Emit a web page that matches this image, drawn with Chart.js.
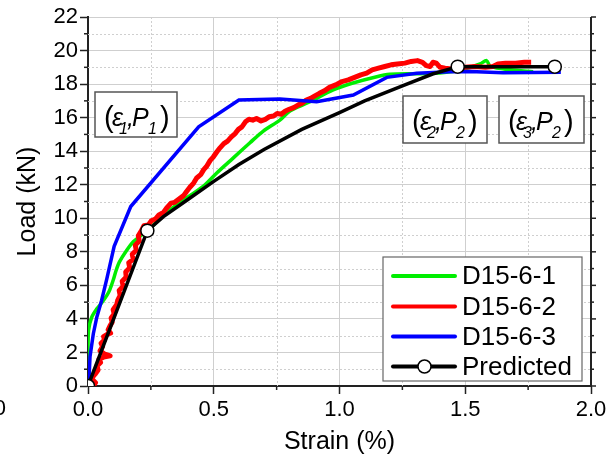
<!DOCTYPE html>
<html>
<head>
<meta charset="utf-8">
<script src="https://cdn.jsdelivr.net/npm/chart.js@4/dist/chart.umd.min.js"></script>
<style>
  html, body { margin: 0; padding: 0; background: #fff; }
  canvas { display: block; }
</style>
</head>
<body>
<canvas id="chart" width="611" height="464"></canvas>
<script>
'use strict';

/* Data */
const strainD1 = [0.000, 0.000, 0.002, 0.015, 0.035, 0.054, 0.075, 0.087, 0.100, 0.112, 0.125, 0.154, 0.180, 0.200, 0.240, 0.280, 0.326, 0.390, 0.458, 0.512, 0.578, 0.644, 0.697, 0.763, 0.803, 0.876, 0.975, 1.050, 1.148, 1.200, 1.300, 1.370, 1.470, 1.520, 1.559, 1.585, 1.600, 1.680, 1.770];
const loadD1 = [0.50, 2.00, 3.30, 4.10, 4.60, 4.95, 5.40, 5.75, 6.30, 6.90, 7.40, 8.10, 8.60, 8.85, 9.30, 9.90, 10.50, 11.20, 11.90, 12.70, 13.60, 14.50, 15.20, 15.85, 16.40, 16.90, 17.65, 18.05, 18.44, 18.58, 18.62, 18.64, 18.80, 19.00, 19.20, 19.40, 19.05, 18.85, 18.74];

const strainD2 = [0.021, 0.030, 0.014, 0.028, 0.040, 0.036, 0.050, 0.044, 0.062, 0.088, 0.064, 0.048, 0.058, 0.052, 0.066, 0.062, 0.078, 0.090, 0.080, 0.088, 0.096, 0.092, 0.104, 0.100, 0.114, 0.118, 0.128, 0.124, 0.140, 0.136, 0.152, 0.150, 0.166, 0.162, 0.180, 0.176, 0.192, 0.188, 0.204, 0.200, 0.214, 0.222, 0.240, 0.252, 0.268, 0.282, 0.300, 0.312, 0.330, 0.345, 0.362, 0.380, 0.392, 0.405, 0.420, 0.432, 0.448, 0.460, 0.472, 0.486, 0.498, 0.512, 0.525, 0.540, 0.555, 0.570, 0.585, 0.598, 0.612, 0.626, 0.640, 0.655, 0.670, 0.688, 0.705, 0.720, 0.738, 0.752, 0.768, 0.785, 0.800, 0.818, 0.835, 0.850, 0.868, 0.885, 0.902, 0.920, 0.940, 0.960, 0.985, 1.010, 1.035, 1.060, 1.085, 1.108, 1.130, 1.155, 1.180, 1.205, 1.230, 1.260, 1.285, 1.310, 1.330, 1.345, 1.360, 1.372, 1.385, 1.400, 1.420, 1.445, 1.470, 1.500, 1.540, 1.580, 1.610, 1.630, 1.660, 1.700, 1.735, 1.762];
const loadD2 = [0.00, 0.20, 0.45, 0.70, 0.95, 1.20, 1.40, 1.60, 1.72, 1.80, 1.92, 2.10, 2.35, 2.55, 2.75, 2.95, 3.10, 3.15, 3.35, 3.60, 3.80, 4.05, 4.30, 4.55, 4.85, 5.10, 5.40, 5.70, 5.95, 6.25, 6.50, 6.80, 7.05, 7.35, 7.55, 7.85, 8.10, 8.40, 8.65, 8.95, 9.30, 9.55, 9.60, 9.85, 9.95, 10.20, 10.35, 10.60, 10.90, 10.95, 11.15, 11.35, 11.60, 11.85, 12.10, 12.40, 12.60, 12.90, 13.10, 13.45, 13.65, 13.95, 14.20, 14.45, 14.60, 14.85, 15.05, 15.30, 15.45, 15.75, 15.90, 15.85, 15.95, 15.80, 15.90, 16.05, 16.10, 16.25, 16.20, 16.40, 16.50, 16.60, 16.75, 16.85, 17.05, 17.15, 17.30, 17.45, 17.60, 17.80, 17.95, 18.15, 18.25, 18.40, 18.55, 18.65, 18.85, 18.95, 19.05, 19.15, 19.20, 19.25, 19.35, 19.40, 19.30, 19.10, 19.05, 19.30, 19.25, 19.00, 18.95, 18.90, 18.95, 19.00, 19.05, 19.00, 19.05, 19.20, 19.25, 19.25, 19.30, 19.30];

const strainD3 = [0.004, 0.008, 0.021, 0.035, 0.054, 0.075, 0.104, 0.170, 0.440, 0.600, 0.763, 0.843, 0.909, 1.055, 1.188, 1.307, 1.440, 1.519, 1.650, 1.880];
const loadD3 = [0.40, 1.75, 3.10, 4.10, 5.10, 6.40, 8.33, 10.70, 15.45, 17.05, 17.11, 17.02, 16.95, 17.35, 18.40, 18.65, 18.74, 18.75, 18.68, 18.70];

const strainPred = [0.000, 0.236, 0.300, 0.400, 0.500, 0.600, 0.700, 0.850, 1.000, 1.100, 1.250, 1.370, 1.470, 1.856];
const loadPred = [0.00, 9.26, 10.10, 11.15, 12.20, 13.20, 14.10, 15.30, 16.30, 17.00, 17.90, 18.60, 19.04, 19.04];
const predKeyStrain = [0.000, 0.236, 1.470, 1.856];

const seriesLabels = ['D15-6-1', 'D15-6-2', 'D15-6-3', 'Predicted'];
const seriesColors = ['#00ee00', '#ff0000', '#0000ff', '#000000'];

/* Annotation labels: [epsilon subscript, P subscript] */
const pointLabels = [['1', '1'], ['2', '2'], ['3', '2']];

const FONT = "'Liberation Sans', Arial, sans-serif";

function toPoints(xs, ys) {
  return xs.map((x, i) => ({ x: x, y: ys[i] }));
}

/* Minor grid, minor ticks, right spine */
const frameExtras = {
  id: 'frameExtras',
  beforeDatasetsDraw(chart) {
    const { ctx, chartArea: a, scales: { x, y } } = chart;
    ctx.save();
    ctx.strokeStyle = '#cfcfcf';
    ctx.lineWidth = 1;
    ctx.setLineDash([2, 2]);
    for (let v = 1; v < 22; v += 2) {
      const py = Math.round(y.getPixelForValue(v)) + 0.5;
      ctx.beginPath(); ctx.moveTo(a.left, py); ctx.lineTo(a.right, py); ctx.stroke();
    }
    for (let v = 0.25; v < 2; v += 0.5) {
      const px = Math.round(x.getPixelForValue(v)) + 0.5;
      ctx.beginPath(); ctx.moveTo(px, a.top); ctx.lineTo(px, a.bottom); ctx.stroke();
    }
    ctx.setLineDash([]);
    ctx.strokeStyle = '#222';
    ctx.lineWidth = 1.5;
    for (let v = 1; v < 22; v += 2) {
      const py = y.getPixelForValue(v);
      ctx.beginPath(); ctx.moveTo(a.left - 4, py); ctx.lineTo(a.left, py); ctx.stroke();
    }
    for (let v = 0.25; v < 2; v += 0.5) {
      const px = x.getPixelForValue(v);
      ctx.beginPath(); ctx.moveTo(px, a.bottom); ctx.lineTo(px, a.bottom + 4); ctx.stroke();
    }
    for (let v = 0; v <= 22; v += 1) {
      const py = y.getPixelForValue(v);
      ctx.beginPath(); ctx.moveTo(a.right, py); ctx.lineTo(a.right + (v % 2 ? 3 : 5), py); ctx.stroke();
    }
    ctx.lineWidth = 2;
    ctx.beginPath(); ctx.moveTo(a.right, a.top); ctx.lineTo(a.right, a.bottom + 1); ctx.stroke();
    ctx.restore();
  },
  afterDraw(chart) {
    const { ctx } = chart;
    ctx.save();
    ctx.fillStyle = '#000';
    ctx.font = '22px ' + FONT;
    ctx.textAlign = 'right';
    ctx.textBaseline = 'middle';
    ctx.fillText('0', 6, 409);
    ctx.restore();
  }
};

/* (ε,P) annotation boxes */
const annotationBoxes = [
  { left: 95, top: 92, width: 82, height: 45 },
  { left: 403, top: 96, width: 84, height: 47 },
  { left: 499, top: 96, width: 85, height: 47 }
];

function drawPairLabel(ctx, box, subs) {
  const base = box.top + 34;
  const l = box.left;
  ctx.fillStyle = '#000';
  ctx.textBaseline = 'alphabetic';
  ctx.textAlign = 'left';
  ctx.font = '29px ' + FONT;
  ctx.fillText('(', l + 9, base + 1);
  ctx.font = 'italic 25px ' + FONT;
  ctx.fillText('\u03b5', l + 17, base);
  ctx.font = 'italic 16px ' + FONT;
  ctx.fillText(subs[0], l + 24, base + 8);
  ctx.font = 'italic 25px ' + FONT;
  ctx.fillText(',', l + 32, base);
  ctx.fillText('P', l + 37, base);
  ctx.font = 'italic 16px ' + FONT;
  ctx.fillText(subs[1], l + 53, base + 8);
  ctx.font = '29px ' + FONT;
  ctx.fillText(')', l + 65, base + 1);
}

const annotations = {
  id: 'annotations',
  afterDatasetsDraw(chart) {
    const { ctx } = chart;
    ctx.save();
    annotationBoxes.forEach((b, i) => {
      ctx.fillStyle = '#fff';
      ctx.fillRect(b.left, b.top, b.width, b.height);
      ctx.strokeStyle = '#555';
      ctx.lineWidth = 1.5;
      ctx.strokeRect(b.left, b.top, b.width, b.height);
      drawPairLabel(ctx, b, pointLabels[i]);
    });
    ctx.restore();
  }
};

/* Boxed legend inside the plot */
const boxLegend = {
  id: 'boxLegend',
  afterDraw(chart) {
    const { ctx } = chart;
    const box = { left: 383, top: 257, width: 199, height: 124 };
    const rowY = [276, 306.5, 336.5, 366.5];
    ctx.save();
    ctx.fillStyle = '#fff';
    ctx.fillRect(box.left, box.top, box.width, box.height);
    ctx.strokeStyle = '#666';
    ctx.lineWidth = 1.2;
    ctx.strokeRect(box.left, box.top, box.width, box.height);
    seriesLabels.forEach((label, i) => {
      ctx.strokeStyle = seriesColors[i];
      ctx.lineWidth = 4;
      ctx.lineCap = 'round';
      ctx.beginPath();
      ctx.moveTo(393, rowY[i]);
      ctx.lineTo(455, rowY[i]);
      ctx.stroke();
      if (i === 3) {
        ctx.fillStyle = '#fff';
        ctx.strokeStyle = '#000';
        ctx.lineWidth = 1.5;
        ctx.beginPath();
        ctx.arc(424.5, rowY[i], 6.5, 0, Math.PI * 2);
        ctx.fill();
        ctx.stroke();
      }
      ctx.fillStyle = '#000';
      ctx.font = '26px ' + FONT;
      ctx.textAlign = 'left';
      ctx.textBaseline = 'middle';
      ctx.fillText(label, 462, rowY[i] + 1);
    });
    ctx.restore();
  }
};

function initChart() {
  const ctx = document.getElementById('chart').getContext('2d');
  new Chart(ctx, {
    type: 'line',
    data: {
      datasets: [
        {
          label: seriesLabels[3],
          data: toPoints(strainPred, loadPred),
          borderColor: seriesColors[3],
          borderWidth: 3.5,
          pointRadius: (c) => (c.raw && predKeyStrain.includes(c.raw.x) ? 6.5 : 0),
          pointBackgroundColor: '#fff',
          pointBorderColor: '#000',
          pointBorderWidth: 1.5,
          tension: 0
        },
        {
          label: seriesLabels[2],
          data: toPoints(strainD3, loadD3),
          borderColor: seriesColors[2],
          borderWidth: 3.5,
          pointRadius: 0,
          tension: 0
        },
        {
          label: seriesLabels[1],
          data: toPoints(strainD2, loadD2),
          borderColor: seriesColors[1],
          borderWidth: 5,
          borderJoinStyle: 'round',
          pointRadius: 0,
          tension: 0
        },
        {
          label: seriesLabels[0],
          data: toPoints(strainD1, loadD1),
          borderColor: seriesColors[0],
          borderWidth: 3.5,
          pointRadius: 0,
          tension: 0.3
        }
      ]
    },
    options: {
      responsive: false,
      animation: false,
      layout: { padding: { left: 0, top: 17, right: 20, bottom: 0 } },
      plugins: {
        legend: { display: false },
        tooltip: { enabled: false }
      },
      scales: {
        x: {
          type: 'linear',
          min: 0,
          max: 2,
          ticks: {
            stepSize: 0.5,
            autoSkip: false,
            maxRotation: 0,
            padding: 3,
            color: '#000',
            font: { family: FONT, size: 22 },
            callback: (v) => Number(v).toFixed(1)
          },
          grid: { color: '#cfcfcf', lineWidth: 1, tickLength: 8, tickColor: '#222', tickWidth: 1.5 },
          border: { color: '#222', width: 2 },
          title: {
            display: true,
            text: 'Strain (%)',
            color: '#000',
            font: { family: FONT, size: 25 },
            padding: { top: 0, bottom: 7 }
          },
          afterFit: (s) => { s.height = 78; }
        },
        y: {
          type: 'linear',
          min: 0,
          max: 22,
          ticks: {
            stepSize: 2,
            padding: 2,
            color: '#000',
            font: { family: FONT, size: 22 }
          },
          grid: { color: '#cfcfcf', lineWidth: 1, tickLength: 8, tickColor: '#222', tickWidth: 1.5 },
          border: { color: '#222', width: 2 },
          title: {
            display: true,
            text: 'Load (kN)',
            color: '#000',
            font: { family: FONT, size: 25 },
            padding: { top: 13, bottom: 0 }
          },
          afterFit: (s) => { s.width = 88; }
        }
      }
    },
    plugins: [frameExtras, annotations, boxLegend]
  });
}

document.addEventListener('DOMContentLoaded', initChart);
</script>
</body>
</html>
